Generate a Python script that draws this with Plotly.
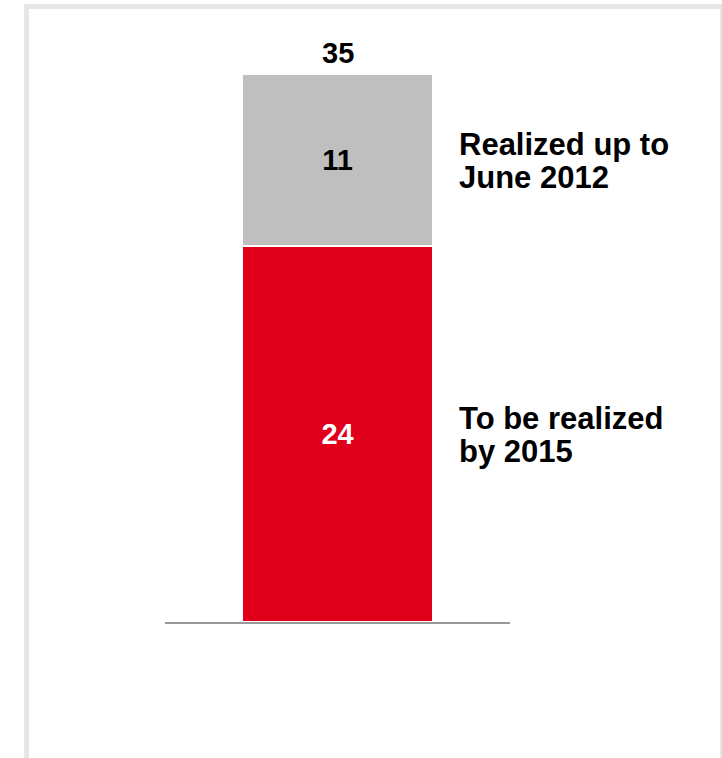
import plotly.graph_objects as go

# Data
categories = ["Savings"]
to_be_realized = [24]
realized_so_far = [11]
total = [35]
segment_labels = [["To be realized", "by 2015"], ["Realized up to", "June 2012"]]

RED = "#E0001B"
GREY = "#BFBFBF"
FONT = "Liberation Sans, Arial, sans-serif"

W, H = 722, 758
ML, MR, MT, MB = 165, 212, 20, 136


def px_x(x):
    return (x - ML) / (W - ML - MR)


def px_y(y):
    return (H - MB - y) / (H - MT - MB)


fig = go.Figure()
fig.add_trace(go.Bar(
    x=categories, y=to_be_realized, marker=dict(color=RED, line=dict(color="white", width=1.5)),
    text=to_be_realized, textposition="inside", insidetextanchor="middle",
    textfont=dict(family=FONT, size=29, color="white", weight="bold"),
    hoverinfo="skip",
))
fig.add_trace(go.Bar(
    x=categories, y=realized_so_far, marker=dict(color=GREY, line=dict(color="white", width=1.5)),
    text=realized_so_far, textposition="inside", insidetextanchor="middle",
    textfont=dict(family=FONT, size=29, color="black", weight="bold"),
    hoverinfo="skip",
))

# total above the stack
fig.add_annotation(x=0, y=total[0], text=f"<b>{total[0]}</b>", showarrow=False,
                   yanchor="bottom", yshift=3, font=dict(family=FONT, size=29, color="black"))

# segment captions to the right of the bar
mids = [to_be_realized[0] / 2, to_be_realized[0] + realized_so_far[0] / 2]
for mid, lines in zip(mids, segment_labels):
    for i, line in enumerate(lines):
        fig.add_annotation(x=0.345, y=mid, xref="x", yref="y", text=f"<b>{line}</b>",
                           showarrow=False, xanchor="left", yanchor="middle",
                           yshift=16 - 33 * i, font=dict(family=FONT, size=31, color="black"))

# light frame around the panel
frame = "#E6E6E6"
fig.add_shape(type="rect", xref="paper", yref="paper", x0=px_x(24), x1=px_x(722), y0=px_y(9), y1=px_y(4),
              fillcolor=frame, line_width=0, layer="below")
fig.add_shape(type="rect", xref="paper", yref="paper", x0=px_x(24), x1=px_x(29), y0=px_y(758), y1=px_y(4),
              fillcolor=frame, line_width=0, layer="below")
fig.add_shape(type="rect", xref="paper", yref="paper", x0=px_x(720), x1=px_x(722), y0=px_y(758), y1=px_y(4),
              fillcolor=frame, line_width=0, layer="below")

fig.update_layout(
    width=W, height=H, barmode="stack", bargap=0.449, showlegend=False,
    margin=dict(l=ML, r=MR, t=MT, b=MB),
    paper_bgcolor="white", plot_bgcolor="white",
    xaxis=dict(type="category", range=[-0.5, 0.5], showline=True, linecolor="#999999", linewidth=2,
               showticklabels=False, ticks="", showgrid=False, zeroline=False, fixedrange=True),
    yaxis=dict(range=[0, 38.45], visible=False, showgrid=False, zeroline=False),
)

fig.write_html("out.html")
